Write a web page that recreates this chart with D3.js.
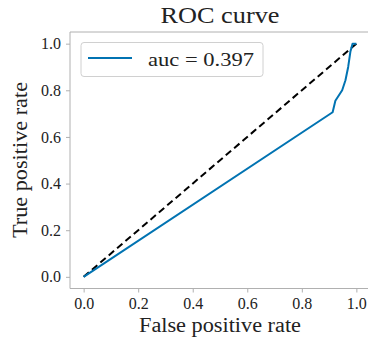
<!DOCTYPE html>
<html>
<head>
<meta charset="utf-8">
<script src="https://cdn.jsdelivr.net/npm/d3@7"></script>
<style>
  body { margin: 0; background: #fff; }
</style>
</head>
<body>
<svg id="chart"></svg>
<script>
// roc points
const fpr = [0, 0.913, 0.923, 0.948, 0.96, 0.97, 0.978, 0.986, 1.0];
const tpr = [0, 0.706, 0.755, 0.80, 0.843, 0.90, 0.965, 1.0, 1.0];
const chance = [0, 1];
const ticks = [0, 0.2, 0.4, 0.6, 0.8, 1.0];
const aucLabel = "auc = 0.397";

const width = 368, height = 339;
const margin = {top: 32, right: -2, bottom: 51, left: 70};
const serif = '"Liberation Serif", "Times New Roman", "DejaVu Serif", serif';

const svg = d3.select("#chart")
  .attr("width", width)
  .attr("height", height);

const x = d3.scaleLinear().domain([-0.05, 1.05]).range([margin.left, width - margin.right]);
const y = d3.scaleLinear().domain([-0.05, 1.05]).range([height - margin.bottom + 0.5, margin.top]);

const spine = "#b0b0b0";

svg.append("g")
  .attr("transform", "translate(0," + (height - margin.bottom + 0.5) + ")")
  .call(d3.axisBottom(x).tickValues(ticks).tickFormat(d3.format(".1f")).tickSize(4).tickPadding(5));

svg.append("g")
  .attr("transform", "translate(" + margin.left + ",0)")
  .call(d3.axisLeft(y).tickValues(ticks).tickFormat(d3.format(".1f")).tickSize(4).tickPadding(5));

svg.selectAll(".domain").remove();
svg.selectAll(".tick line").attr("stroke", spine).attr("stroke-width", 1);
svg.selectAll(".tick text")
  .attr("font-family", serif)
  .attr("font-size", 16)
  .attr("fill", "#222");

// spines
svg.append("line")
  .attr("x1", margin.left).attr("x2", width)
  .attr("y1", margin.top).attr("y2", margin.top)
  .attr("stroke", spine);
svg.append("line")
  .attr("x1", margin.left).attr("x2", width)
  .attr("y1", height - margin.bottom + 0.5).attr("y2", height - margin.bottom + 0.5)
  .attr("stroke", spine);
svg.append("line")
  .attr("x1", margin.left).attr("x2", margin.left)
  .attr("y1", margin.top).attr("y2", height - margin.bottom + 0.5)
  .attr("stroke", spine);

// diagonal
svg.append("path")
  .datum(chance.map((v) => [v, v]))
  .attr("fill", "none")
  .attr("stroke", "#000")
  .attr("stroke-width", 2)
  .attr("stroke-dasharray", "7,4")
  .attr("d", d3.line().x(d => x(d[0])).y(d => y(d[1])));

// roc curve
svg.append("path")
  .datum(fpr.map((v, i) => [v, tpr[i]]))
  .attr("fill", "none")
  .attr("stroke", "#0173b2")
  .attr("stroke-width", 2)
  .attr("stroke-linejoin", "round")
  .attr("d", d3.line().x(d => x(d[0])).y(d => y(d[1])));

// legend
const lg = svg.append("g");
lg.append("rect")
  .attr("x", 81).attr("y", 42.5)
  .attr("width", 182).attr("height", 34)
  .attr("rx", 3)
  .attr("fill", "#fff").attr("fill-opacity", 0.8)
  .attr("stroke", "#d0d0d0");
lg.append("line")
  .attr("x1", 88).attr("x2", 132)
  .attr("y1", 58).attr("y2", 58)
  .attr("stroke", "#0173b2").attr("stroke-width", 2);
lg.append("text")
  .attr("x", 148).attr("y", 66)
  .attr("font-family", serif).attr("font-size", 19).attr("fill", "#222")
  .attr("textLength", 106).attr("lengthAdjust", "spacingAndGlyphs")
  .text(aucLabel);

// title and axis labels
const cx = (margin.left + x(1.05)) / 2;
svg.append("text")
  .attr("x", cx).attr("y", 23)
  .attr("text-anchor", "middle")
  .attr("font-family", serif).attr("font-size", 23).attr("fill", "#222")
  .attr("textLength", 119).attr("lengthAdjust", "spacingAndGlyphs")
  .text("ROC curve");

svg.append("text")
  .attr("x", cx).attr("y", 332)
  .attr("text-anchor", "middle")
  .attr("font-family", serif).attr("font-size", 20).attr("fill", "#222")
  .attr("textLength", 162).attr("lengthAdjust", "spacingAndGlyphs")
  .text("False positive rate");

svg.append("text")
  .attr("transform", "translate(27," + ((margin.top + height - margin.bottom) / 2) + ") rotate(-90)")
  .attr("text-anchor", "middle")
  .attr("font-family", serif).attr("font-size", 20).attr("fill", "#222")
  .attr("textLength", 156).attr("lengthAdjust", "spacingAndGlyphs")
  .text("True positive rate");
</script>
</body>
</html>
